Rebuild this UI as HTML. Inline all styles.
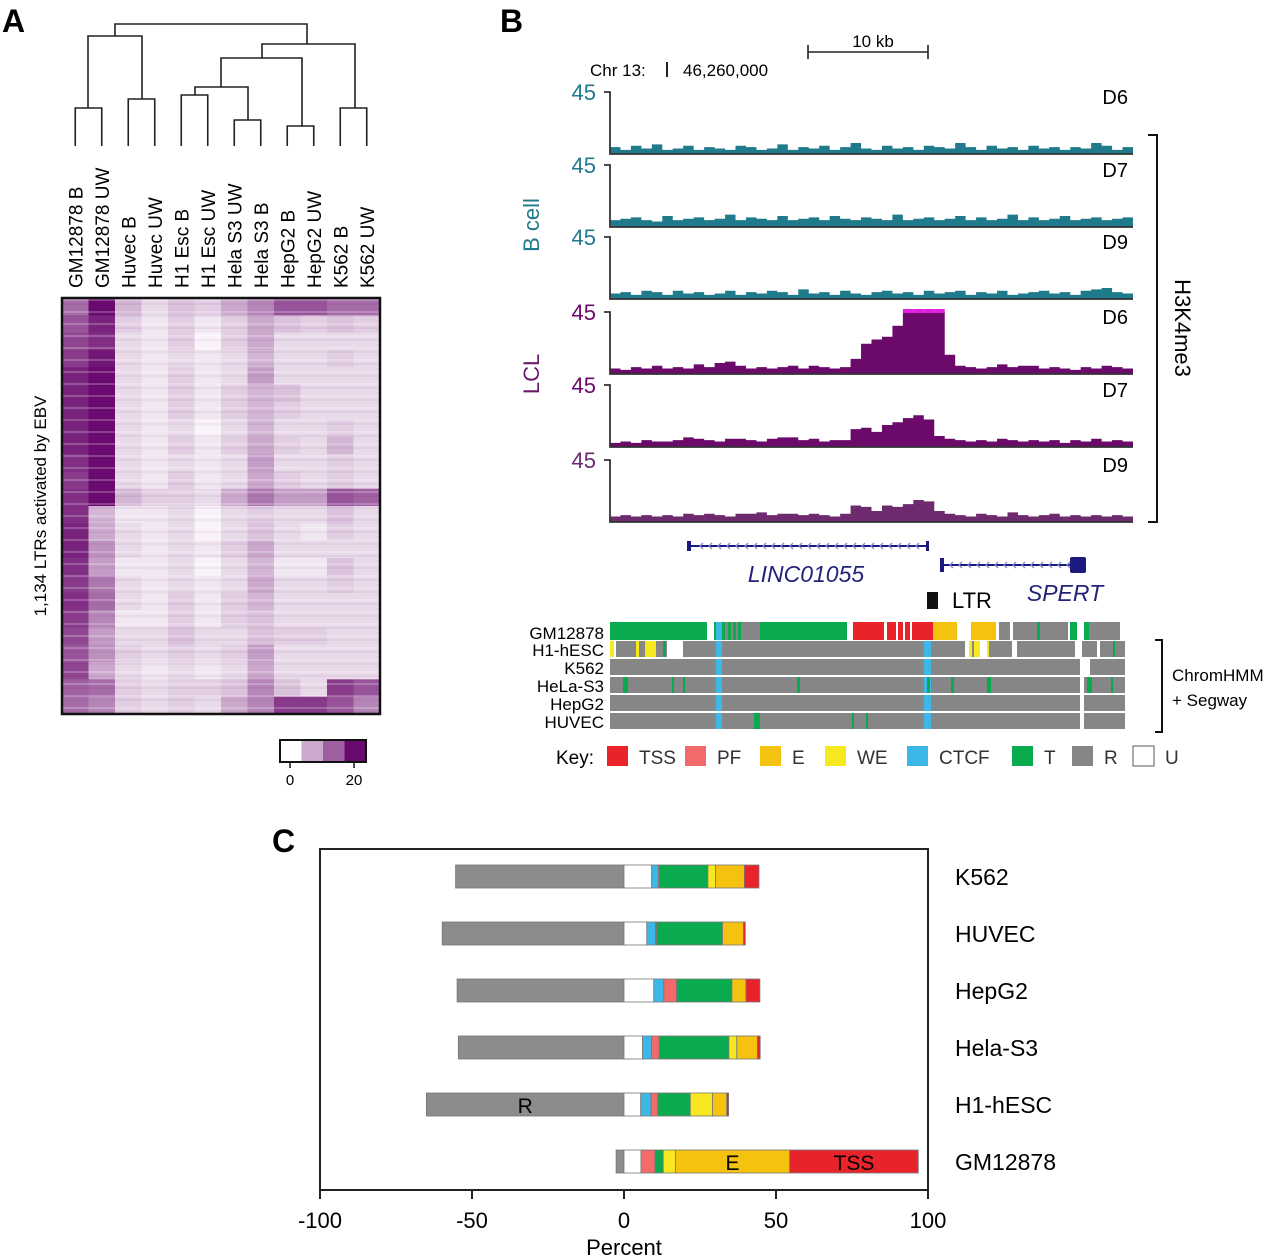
<!DOCTYPE html>
<html><head><meta charset="utf-8">
<style>
html,body{margin:0;padding:0;background:#fff}
svg{display:block;font-family:"Liberation Sans",Arial,sans-serif}
</style></head>
<body>
<svg id="fig" width="1280" height="1258" viewBox="0 0 1280 1258">
<g id="panelA">
<text x="2" y="32" font-size="32" font-weight="bold">A</text>
<g id="dendro" stroke="#222" stroke-width="1.6" fill="none"></g>
<g id="colLabels"></g>
<g id="heat"></g>
<rect x="62" y="298" width="318" height="416" fill="none" stroke="#111" stroke-width="2.5"/>
<text transform="translate(46,506) rotate(-90)" font-size="17" text-anchor="middle">1,134 LTRs activated by EBV</text>
<g id="colorLegend"></g>
</g>
<g id="panelB">
<text x="500" y="32" font-size="32" font-weight="bold">B</text>
<line x1="808" y1="52" x2="928" y2="52" stroke="#222" stroke-width="1.6"/>
<line x1="808" y1="45" x2="808" y2="59" stroke="#222" stroke-width="1.6"/>
<line x1="928" y1="45" x2="928" y2="59" stroke="#222" stroke-width="1.6"/>
<text x="873" y="47" font-size="17" text-anchor="middle">10 kb</text>
<text x="590" y="76" font-size="17">Chr 13:</text>
<line x1="667" y1="62" x2="667" y2="77" stroke="#222" stroke-width="2"/>
<text x="683" y="76" font-size="17">46,260,000</text>
<g id="tracks"></g>
<text transform="translate(539,225) rotate(-90)" font-size="22" fill="#1f7a8c" text-anchor="middle">B cell</text>
<text transform="translate(539,374) rotate(-90)" font-size="22" fill="#6b1a6b" text-anchor="middle">LCL</text>
<path d="M1148,135 H1157 V522 H1148" fill="none" stroke="#111" stroke-width="2"/>
<text transform="translate(1175,328) rotate(90)" font-size="22" text-anchor="middle">H3K4me3</text>
<g id="genes"></g>
<g id="hmm"></g>
<path d="M1155,640 H1162 V732 H1155" fill="none" stroke="#111" stroke-width="2"/>
<text x="1172" y="681" font-size="17">ChromHMM</text>
<text x="1172" y="706" font-size="17">+ Segway</text>
<g id="key"></g>
</g>
<g id="panelC">
<text x="272" y="852" font-size="32" font-weight="bold">C</text>
<rect x="320" y="849" width="608" height="341" fill="none" stroke="#222" stroke-width="2"/>
<g id="bars"></g>
<g id="xaxis"></g>
<text x="624" y="1255" font-size="22" text-anchor="middle">Percent</text>
</g>
</svg>
<script>
const NS='http://www.w3.org/2000/svg';
function mk(tag,attrs,parent){const e=document.createElementNS(NS,tag);for(const k in attrs)e.setAttribute(k,attrs[k]);parent.appendChild(e);return e;}

/* ---------- Panel A data ---------- */
const sampleNames=['GM12878 B','GM12878 UW','Huvec B','Huvec UW','H1 Esc B','H1 Esc UW','Hela S3 UW','Hela S3 B','HepG2 B','HepG2 UW','K562 B','K562 UW'];
const heatCol0=[12,14,15,16,18,18,18,18,18,17,16,17,17,18,18,17,16,17,16,15,14,15,13,12];
const heatCol1=[20,18,17,19,20,20,20,20,20,20,20,20,6,7,9,8,11,12,10,8,9,7,12,10];
const heatCol2=[6,4,3,3,3,3,3,3,3,3,3,6,2,3,3,2,3,3,2,3,4,3,4,4];
const heatCol3=[3,2,2,2,2,2,2,2,2,2,2,4,2,2,2,2,2,2,2,3,3,2,3,3];
const heatCol4=[5,4,4,3,4,4,4,3,4,3,4,4,3,3,3,3,3,4,4,5,4,3,4,4];
const heatCol5=[4,2,1,2,2,2,2,1,2,2,2,3,1,1,2,1,2,2,2,3,3,2,4,3];
const heatCol6=[7,4,4,3,3,4,4,3,4,3,3,7,3,3,4,3,3,4,4,3,4,3,5,7];
const heatCol7=[10,7,7,6,8,6,6,6,7,8,7,11,4,5,7,6,7,6,5,5,8,7,10,10];
const heatCol8=[14,5,3,3,3,5,4,3,4,3,4,8,3,3,3,2,3,3,3,4,3,3,5,16];
const heatCol9=[14,4,3,3,3,3,3,3,3,3,3,8,3,2,3,2,3,3,3,4,3,3,3,16];
const heatCol10=[12,5,3,4,3,3,3,4,6,4,4,14,5,4,3,5,4,3,3,3,3,3,16,14];
const heatCol11=[12,4,3,3,3,3,3,3,3,3,3,13,3,3,3,3,3,3,3,3,3,3,14,10];
const heatCols=[heatCol0,heatCol1,heatCol2,heatCol3,heatCol4,heatCol5,heatCol6,heatCol7,heatCol8,heatCol9,heatCol10,heatCol11];
const legendTicks=[0,20];

const hx0=62,hw=318,hy0=298,hh=416;
const colW=hw/12;
function colX(i){return hx0+colW*i;}
function heatColor(v){const t=Math.max(0,Math.min(1,v/20));const r=Math.round(255+(106-255)*t),g=Math.round(255+(10-255)*t),b=Math.round(255+(110-255)*t);return `rgb(${r},${g},${b})`;}
const heat=document.getElementById('heat');
heatCols.forEach((col,i)=>{
  const rh=hh/col.length;
  col.forEach((v,j)=>{
    const r=mk('rect',{x:colX(i),y:hy0+rh*j,width:colW+0.3,height:rh+0.3,fill:heatColor(v)},heat);
    
    
  });
});
// fine stripe texture
for(let y=hy0+2,k=0;y<hy0+hh;y+=4,k++){
  if(k%3===0) mk('line',{x1:hx0,y1:y,x2:hx0+hw,y2:y,stroke:'#fff','stroke-width':1.2,opacity:0.35},heat);
  else if(k%3===1) mk('line',{x1:hx0,y1:y,x2:hx0+hw,y2:y,stroke:'#7a1a7e','stroke-width':1,opacity:0.12},heat);
}

const cl=document.getElementById('colLabels');
sampleNames.forEach((n,i)=>{
  const t=mk('text',{transform:`translate(${colX(i)+colW/2+7},288) rotate(-90)`,'font-size':19},cl);
  t.textContent=n;
  
  
});
// dendrogram
const dg=document.getElementById('dendro');
const leafX=i=>colX(i)+colW/2;
const dpaths=[
 [[leafX(0),146],[leafX(0),108],[leafX(1),108],[leafX(1),146]],
 [[leafX(2),146],[leafX(2),99],[leafX(3),99],[leafX(3),146]],
 [[leafX(4),146],[leafX(4),95],[leafX(5),95],[leafX(5),146]],
 [[leafX(6),146],[leafX(6),120],[leafX(7),120],[leafX(7),146]],
 [[leafX(8),146],[leafX(8),126],[leafX(9),126],[leafX(9),146]],
 [[leafX(10),146],[leafX(10),108],[leafX(11),108],[leafX(11),146]],
 [[195,95],[195,87],[248,87],[248,120]],
 [[221,87],[221,58],[302,58],[302,126]],
 [[262,58],[262,44],[355,44],[355,108]],
 [[88,108],[88,36],[142,36],[142,99]],
 [[115,36],[115,24],[307,24],[307,44]]];
dpaths.forEach(p=>{mk('path',{d:'M'+p.map(q=>q.join(',')).join(' L')},dg);});
// color legend
const lg=document.getElementById('colorLegend');
[0,7,13,20].forEach((v,i)=>{mk('rect',{x:280+i*21.5,y:740,width:21.5,height:22,fill:heatColor(v)},lg);});
mk('rect',{x:280,y:740,width:86,height:22,fill:'none',stroke:'#111','stroke-width':2},lg);
legendTicks.forEach(v=>{const x=290+(v/20)*64;mk('line',{x1:x,y1:762,x2:x,y2:768,stroke:'#111','stroke-width':1.5},lg);const t=mk('text',{x:x,y:785,'font-size':15,'text-anchor':'middle'},lg);t.textContent=v;});

/* ---------- Panel B data ---------- */
const trackNames=['D6','D7','D9','D6','D7','D9'];
const bD6=[5,3,6,4,7,3,4,6,3,5,4,3,6,5,3,4,7,3,5,4,6,3,5,8,4,3,6,4,5,3,6,5,4,8,5,3,6,4,5,3,6,4,5,3,5,4,8,6,3,5];
const bD7=[5,6,7,5,4,8,5,6,7,5,6,9,5,7,6,5,8,5,6,7,5,8,6,5,7,6,5,9,5,6,7,5,6,8,5,7,5,6,9,5,7,5,6,8,5,6,7,5,6,7];
const bD9=[4,5,3,6,5,3,6,4,5,3,4,6,3,5,4,6,5,3,7,4,5,3,6,4,3,5,6,4,5,3,6,4,5,6,3,5,4,6,3,4,5,6,4,5,3,6,7,8,5,4];
const lD6=[4,3,5,4,6,4,5,4,7,5,8,9,6,4,5,4,5,6,4,6,5,4,5,11,22,25,27,35,45,45,45,45,14,6,5,4,5,7,5,6,6,4,5,4,3,5,4,6,5,4];
const lD7=[3,4,3,5,4,4,5,7,6,5,4,6,6,5,4,6,7,7,5,6,4,5,5,13,14,11,16,18,21,23,20,8,6,5,4,5,4,6,5,4,5,4,5,3,5,4,6,4,5,4];
const lD9=[4,5,4,5,4,5,4,6,5,6,5,4,6,6,7,5,6,6,5,6,5,4,6,12,11,8,12,11,13,16,15,8,6,5,4,6,5,4,7,5,4,5,6,4,5,4,5,4,5,4];
const trackData=[bD6,bD7,bD9,lD6,lD7,lD9];
const trackMax=45;
const tx0=610,tx1=1133;
const trackBase=[154,227,299,374,447,522];
const trackH=62;
const tg=document.getElementById('tracks');
trackData.forEach((vals,k)=>{
  const col=k<3?'#1f7a8c':(k===5?'#6e2a6e':'#6b0a6b');
  const base=trackBase[k];
  const bw=(tx1-tx0)/vals.length;
  const yv=v=>base-Math.min(v,trackMax)/trackMax*trackH;
  let d=`M${tx0},${base}`;
  vals.forEach((v,i)=>{d+=` L${tx0+i*bw},${yv(v)} L${tx0+(i+1)*bw},${yv(v)}`;});
  d+=` L${tx1},${base} Z`;
  const p=mk('path',{d:d,fill:col},tg);
  
  
  vals.forEach((v,i)=>{if(v>=trackMax){mk('rect',{x:tx0+i*bw,y:base-trackH-3,width:bw,height:4,fill:'#e020e0'},tg);}});
  mk('path',{d:`M${tx0-6},${base-trackH} H${tx0} V${base} H${tx1}`,fill:'none',stroke:'#333','stroke-width':1.8},tg);
  const lab=mk('text',{x:tx0-14,y:base-trackH+8,'font-size':22,'text-anchor':'end',fill:col},tg);lab.textContent='45';
  const nm=mk('text',{x:1128,y:base-trackH+12,'font-size':20,'text-anchor':'end'},tg);nm.textContent=trackNames[k];
});
// genes
const gg=document.getElementById('genes');
mk('line',{x1:687,y1:546,x2:928,y2:546,stroke:'#1a1a80','stroke-width':2},gg);
mk('rect',{x:687,y:541,width:4,height:10,fill:'#1a1a80'},gg);
mk('rect',{x:926,y:541,width:3,height:10,fill:'#1a1a80'},gg);
for(let x=700;x<925;x+=9){mk('path',{d:`M${x+3},543 L${x},546 L${x+3},549`,fill:'none',stroke:'#8888cc','stroke-width':1.3},gg);}
mk('line',{x1:940,y1:565,x2:1078,y2:565,stroke:'#1a1a80','stroke-width':2},gg);
mk('rect',{x:940,y:558,width:4,height:14,fill:'#1a1a80'},gg);
mk('rect',{x:1070,y:557,width:16,height:16,rx:2,fill:'#1a1a80'},gg);
for(let x=950;x<1068;x+=9){mk('path',{d:`M${x+3},562 L${x},565 L${x+3},568`,fill:'none',stroke:'#8888cc','stroke-width':1.3},gg);}
let t=mk('text',{x:806,y:582,'font-size':23,'font-style':'italic','text-anchor':'middle',fill:'#23237a'},gg);t.textContent='LINC01055';
t=mk('text',{x:1065,y:601,'font-size':23,'font-style':'italic','text-anchor':'middle',fill:'#23237a'},gg);t.textContent='SPERT';
mk('rect',{x:927,y:592,width:11,height:17,fill:'#111'},gg);
t=mk('text',{x:952,y:608,'font-size':22},gg);t.textContent='LTR';
// ChromHMM
const C={TSS:'#e8242a',PF:'#f46a6a',E:'#f5c20f',WE:'#f8e81f',CTCF:'#3cb8e8',T:'#0aaa4e',R:'#868686',U:'#ffffff'};
const hmmNames=['GM12878','H1-hESC','K562','HeLa-S3','HepG2','HUVEC'];
const hmmY=[622,641,659,677,695,713];
const hmmSegs=[
 [[610,707,'T'],[714,847,'T'],[716,722,'CTCF'],[725,728,'R'],[731,733,'R'],[736,738,'R'],[741,760,'R'],[853,933,'TSS'],[884,887,'U'],[896,898,'U'],[903,905,'U'],[910,912,'U'],[933,957,'E'],[971,996,'E'],[999,1010,'R'],[1013,1068,'R'],[1037,1040,'T'],[1070,1077,'T'],[1084,1120,'R'],[1084,1089,'T']],
 [[610,614,'WE'],[616,667,'R'],[636,639,'WE'],[641,644,'R'],[645,656,'WE'],[663,666,'T'],[683,965,'R'],[716,722,'CTCF'],[924,931,'CTCF'],[969,980,'WE'],[972,974,'R'],[987,989,'WE'],[989,1012,'R'],[1017,1075,'R'],[1082,1097,'R'],[1100,1125,'R'],[1113,1115,'T']],
 [[610,1080,'R'],[716,722,'CTCF'],[924,931,'CTCF'],[1090,1125,'R']],
 [[610,1080,'R'],[716,722,'CTCF'],[924,931,'CTCF'],[623,628,'T'],[672,674,'T'],[683,685,'T'],[797,800,'T'],[927,930,'T'],[951,954,'T'],[987,991,'T'],[1084,1125,'R'],[1087,1092,'T'],[1111,1113,'T']],
 [[610,1080,'R'],[716,722,'CTCF'],[924,931,'CTCF'],[1084,1125,'R']],
 [[610,1080,'R'],[716,722,'CTCF'],[924,931,'CTCF'],[754,760,'T'],[852,854,'T'],[866,868,'T'],[1084,1125,'R']]];
const hg=document.getElementById('hmm');
hmmNames.forEach((n,k)=>{
  const y=hmmY[k],h=k===0?18:16;
  hmmSegs[k].forEach(s=>{const r=mk('rect',{x:s[0],y:y,width:s[1]-s[0],height:h,fill:C[s[2]]},hg);
    });
  const tx=mk('text',{x:604,y:y+h-1,'font-size':17,'text-anchor':'end'},hg);tx.textContent=n;
});
// key
const keyStates=['TSS','PF','E','WE','CTCF','T','R','U'];
const keyX=[607,685,760,825,907,1012,1072,1133];
const kg=document.getElementById('key');
t=mk('text',{x:556,y:764,'font-size':19},kg);t.textContent='Key:';
keyStates.forEach((s,i)=>{mk('rect',{x:keyX[i],y:746,width:21,height:20,fill:C[s],stroke:s==='U'?'#555':'none'},kg);
 const tt=mk('text',{x:keyX[i]+32,y:764,'font-size':19,fill:'#333'},kg);tt.textContent=s;});

/* ---------- Panel C data ---------- */
const cellLines=['K562','HUVEC','HepG2','Hela-S3','H1-hESC','GM12878'];
const pctR=[55.4,59.8,54.9,54.5,65.0,2.6];
const pctU=[9.1,7.5,9.8,6.1,5.5,5.6];
const pctCTCF=[2.2,2.9,3.3,3.0,3.4,0];
const pctPF=[0.3,0.3,4.2,2.5,2.2,4.6];
const pctT=[16.0,21.7,18.2,22.9,10.7,2.7];
const pctWE=[2.5,0,0,2.6,7.3,4.0];
const pctE=[9.5,6.9,4.6,6.8,4.7,37.6];
const pctTSS=[4.8,0.6,4.6,0.9,0.6,42.3];
const xTicks=[-100,-50,0,50,100];
const xs=v=>624+v*3.04;
const barY=i=>865+i*57;
const bg=document.getElementById('bars');
const posOrder=[['U',pctU],['CTCF',pctCTCF],['PF',pctPF],['T',pctT],['WE',pctWE],['E',pctE],['TSS',pctTSS]];
cellLines.forEach((n,i)=>{
  const y=barY(i),h=23;
  let r=mk('rect',{x:xs(-pctR[i]),y:y,width:xs(0)-xs(-pctR[i]),height:h,fill:'#8c8c8e',stroke:'#777','stroke-width':0.8},bg);
  
  let acc=0;
  posOrder.forEach(([s,arr])=>{const v=arr[i];if(v<=0)return;
    const rr=mk('rect',{x:xs(acc),y:y,width:xs(acc+v)-xs(acc),height:h,fill:C[s],stroke:'#777','stroke-width':0.8},bg);
    
    if(i===5&&(s==='E'||s==='TSS')){const tl=mk('text',{x:(xs(acc)+xs(acc+v))/2,y:y+20,'font-size':21,'text-anchor':'middle'},bg);tl.textContent=s;}
    acc+=v;});
  if(i===4){const tl=mk('text',{x:xs(-pctR[i]/2),y:y+20,'font-size':21,'text-anchor':'middle'},bg);tl.textContent='R';}
  const lab=mk('text',{x:955,y:y+20,'font-size':23},bg);lab.textContent=n;
  
});
const xg=document.getElementById('xaxis');
xTicks.forEach(v=>{mk('line',{x1:xs(v),y1:1190,x2:xs(v),y2:1199,stroke:'#222','stroke-width':2},xg);
 const tl=mk('text',{x:xs(v),y:1228,'font-size':22,'text-anchor':'middle'},xg);tl.textContent=v;});
</script>
</body></html>
